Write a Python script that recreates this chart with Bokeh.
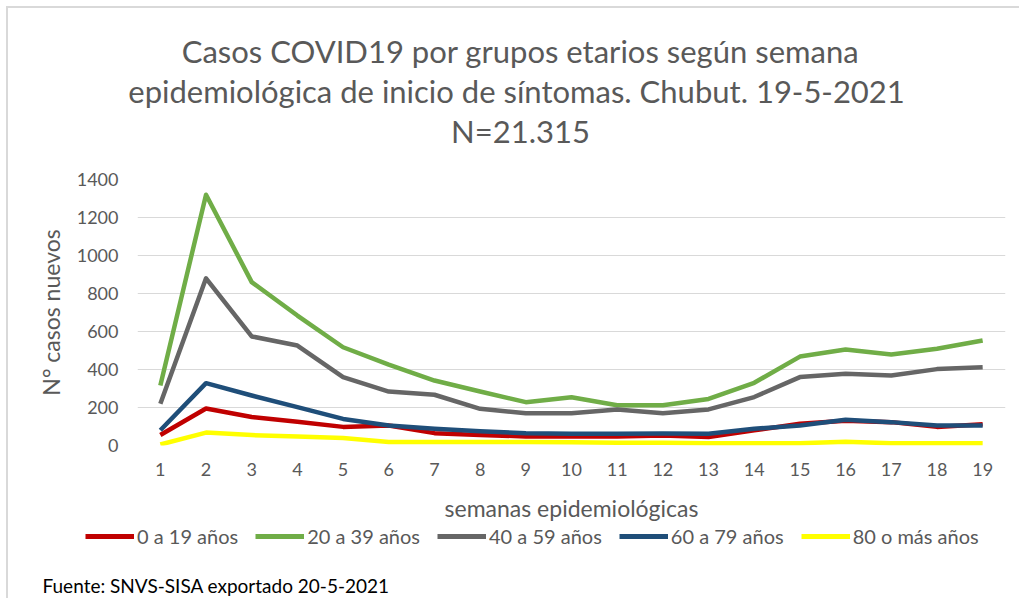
from bokeh.plotting import figure
from bokeh.models import Legend, LegendItem, FixedTicker, Range1d, Label
from bokeh.layouts import column
from bokeh.embed import file_html
from bokeh.resources import INLINE

weeks = list(range(1, 20))
week_labels = [str(w) for w in weeks]
series_names = ["0 a 19 años", "20 a 39 años", "40 a 59 años", "60 a 79 años", "80 o más años"]
red = [55, 195, 150, 125, 98, 105, 65, 55, 48, 48, 48, 52, 45, 80, 115, 130, 123, 98, 112]
green = [316, 1320, 860, 684, 517, 426, 342, 284, 228, 254, 212, 212, 245, 330, 468, 505, 479, 509, 553]
gray = [220, 880, 574, 526, 360, 284, 267, 193, 170, 170, 190, 170, 190, 255, 360, 378, 368, 402, 412]
blue = [80, 328, 263, 202, 140, 105, 88, 75, 65, 62, 62, 63, 62, 88, 105, 135, 123, 105, 105]
yellow = [5, 68, 55, 47, 40, 18, 18, 18, 18, 17, 15, 15, 12, 12, 12, 20, 12, 12, 12]
y_ticks = [0, 200, 400, 600, 800, 1000, 1200, 1400]
title_lines = ["Casos COVID19 por grupos etarios según semana",
               "epidemiológica de inicio de síntomas. Chubut.  19-5-2021",
               "N=21.315"]
footer_text = "Fuente: SNVS-SISA exportado 20-5-2021"

colors = ["#C00000", "#70AD47", "#666666", "#1F4E79", "#FFFF00"]
all_series = [red, green, gray, blue, yellow]
FONT = "Lato"
TXT = "#595959"
W = 1011


def strip(height):
    f = figure(width=W, height=height, output_backend="svg", toolbar_location=None,
               x_range=Range1d(0, 1), y_range=Range1d(0, 1),
               x_axis_location=None, y_axis_location=None,
               min_border_left=0, min_border_right=0, min_border_top=0, min_border_bottom=0)
    f.frame_align = False
    f.outline_line_color = None
    f.grid.visible = False
    f.border_fill_color = "white"
    f.background_fill_color = "white"
    return f


# ---- title strip ----
f0 = strip(142)
for line, ypos in zip(title_lines, [100, 60, 20]):
    f0.add_layout(Label(x=512, y=ypos, x_units="screen", y_units="screen", text=line,
                        text_align="center", text_baseline="middle",
                        text_font=FONT, text_font_size="31px", text_color=TXT))

# ---- main chart ----
p = figure(width=W, height=374, output_backend="svg", toolbar_location=None,
           x_range=Range1d(0.5, 19.5), y_range=Range1d(0, 1400),
           min_border_left=129, min_border_right=14, min_border_top=29, min_border_bottom=79)
p.frame_align = False
p.outline_line_color = None
p.background_fill_color = "white"
p.border_fill_color = "white"

for vals, col in zip(all_series, colors):
    p.line(weeks, vals, line_color=col, line_width=4.5, line_join="round")

p.xaxis.ticker = FixedTicker(ticks=weeks)
p.xaxis.major_label_overrides = {w: l for w, l in zip(weeks, week_labels)}
p.xaxis.axis_line_color = None
p.xaxis.major_tick_line_color = None
p.xaxis.minor_tick_line_color = None
p.xaxis.major_tick_out = 0
p.xaxis.major_tick_in = 0
p.xaxis.major_label_standoff = 17
p.xaxis.major_label_text_font = FONT
p.xaxis.major_label_text_font_size = "18px"
p.xaxis.major_label_text_color = TXT
p.xaxis.axis_label = "semanas epidemiológicas"
p.xaxis.axis_label_text_font = FONT
p.xaxis.axis_label_text_font_size = "23px"
p.xaxis.axis_label_text_font_style = "normal"
p.xaxis.axis_label_text_color = TXT
p.xaxis.axis_label_standoff = 15

p.yaxis.ticker = FixedTicker(ticks=y_ticks)
p.yaxis.axis_line_color = None
p.yaxis.major_tick_line_color = None
p.yaxis.minor_tick_line_color = None
p.yaxis.major_tick_out = 0
p.yaxis.major_tick_in = 0
p.yaxis.major_label_standoff = 19
p.yaxis.major_label_text_font = FONT
p.yaxis.major_label_text_font_size = "18px"
p.yaxis.major_label_text_color = TXT
p.yaxis.axis_label = "N° casos nuevos"
p.yaxis.axis_label_text_font = FONT
p.yaxis.axis_label_text_font_size = "23px"
p.yaxis.axis_label_text_font_style = "normal"
p.yaxis.axis_label_text_color = TXT
p.yaxis.axis_label_standoff = 9

p.xgrid.grid_line_color = None
p.ygrid.grid_line_color = "#D9D9D9"
p.ygrid.grid_line_width = 1

# ---- bottom strip: legend + source note ----
f2 = strip(74)
legend_renderers = [f2.line(weeks, vals, line_color=c, line_width=5, visible=False)
                    for vals, c in zip(all_series, colors)]
legend = Legend(items=[LegendItem(label=n, renderers=[r]) for n, r in zip(series_names, legend_renderers)],
                orientation="horizontal", location=(77, 50),
                label_text_font=FONT, label_text_font_size="20px", label_text_color=TXT,
                glyph_width=49, glyph_height=18, label_standoff=3, spacing=17,
                padding=0, margin=0, border_line_color=None, background_fill_alpha=0,
                inactive_fill_alpha=0)
f2.add_layout(legend)

f2.add_layout(Label(x=34, y=13, x_units="screen", y_units="screen", text=footer_text,
                    text_baseline="middle", text_font=FONT, text_font_size="19px",
                    text_color="#000000"))

layout = column(f0, p, f2, spacing=0,
                styles={"margin-left": "6px", "margin-top": "6px",
                        "border-left": "2px solid #D9D9D9", "border-top": "2px solid #D9D9D9"})
open("out.html", "w").write(file_html(layout, INLINE))
